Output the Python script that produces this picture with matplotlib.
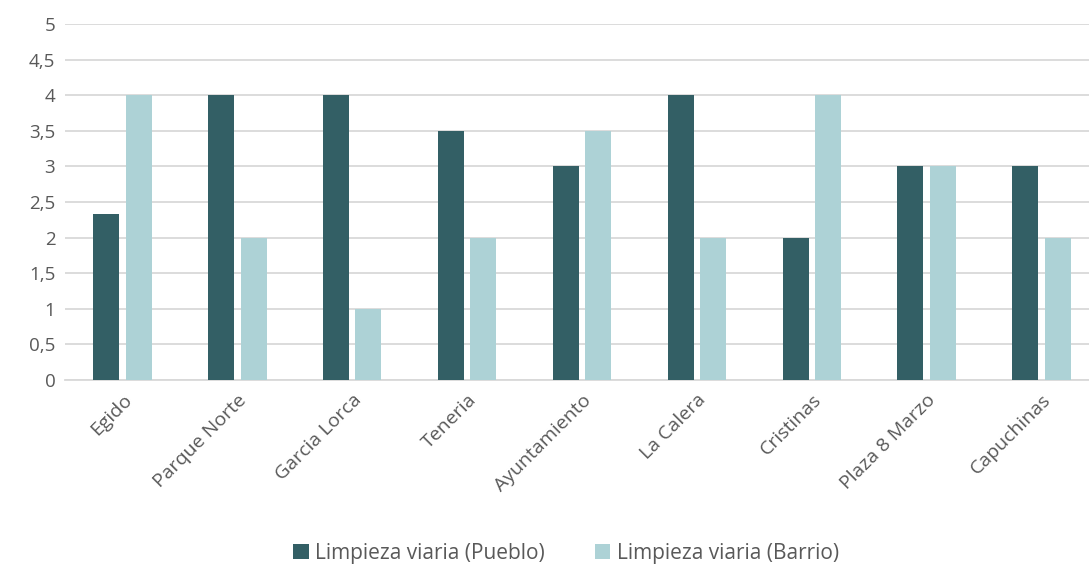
import matplotlib.pyplot as plt
import numpy as np
from matplotlib.ticker import FuncFormatter

plt.rcParams['font.family'] = ['Open Sans', 'DejaVu Sans']

# datos
barrios = ['Egido', 'Parque Norte', 'Garcia Lorca', 'Teneria', 'Ayuntamiento',
           'La Calera', 'Cristinas', 'Plaza 8 Marzo', 'Capuchinas']
pueblo = [2.33, 4, 4, 3.5, 3, 4, 2, 3, 3]
barrio = [4, 2, 1, 2, 3.5, 2, 4, 3, 2]

c_pueblo = '#335F65'
c_barrio = '#ADD2D6'
txt = '#595959'

x = np.arange(len(barrios))
width = 0.226

fig = plt.figure(figsize=(10.89, 5.65), dpi=100)
# el area de trazado sigue un poco mas alla del borde derecho
ax = fig.add_axes([65 / 1089, 1 - 380 / 565, 1034 / 1089, 356 / 565])

ax.bar(x - 0.1415, pueblo, width, color=c_pueblo, label='Limpieza viaria (Pueblo)', zorder=3)
ax.bar(x + 0.1415, barrio, width, color=c_barrio, label='Limpieza viaria (Barrio)', zorder=3)

ax.set_xlim(-0.5, len(barrios) - 0.5)
ax.set_ylim(0, 5)
ax.set_yticks(np.arange(0, 5.01, 0.5))
ax.yaxis.set_major_formatter(FuncFormatter(lambda v, p: f'{v:g}'.replace('.', ',')))
ax.grid(axis='y', color='#D9D9D9', linewidth=1.3, zorder=0)

for s in ['top', 'right', 'left']:
    ax.spines[s].set_visible(False)
ax.spines['bottom'].set_color('#D9D9D9')
ax.spines['bottom'].set_linewidth(1.3)

ax.tick_params(axis='y', length=0, labelsize=13.5, labelcolor=txt, pad=7)
ax.tick_params(axis='x', length=0, labelsize=14, labelcolor=txt, pad=8)
ax.set_xticks(x)
ax.set_xticklabels(barrios, rotation=45, ha='right', rotation_mode='anchor')

fig.legend(loc='center', bbox_to_anchor=(566 / 1089, 1 - 553 / 565), ncol=2, frameon=False,
           fontsize=15, labelcolor=txt, handlelength=0.75, handleheight=0.75,
           handletextpad=0.3, columnspacing=2.4)

fig.savefig('out.png', dpi=100)
